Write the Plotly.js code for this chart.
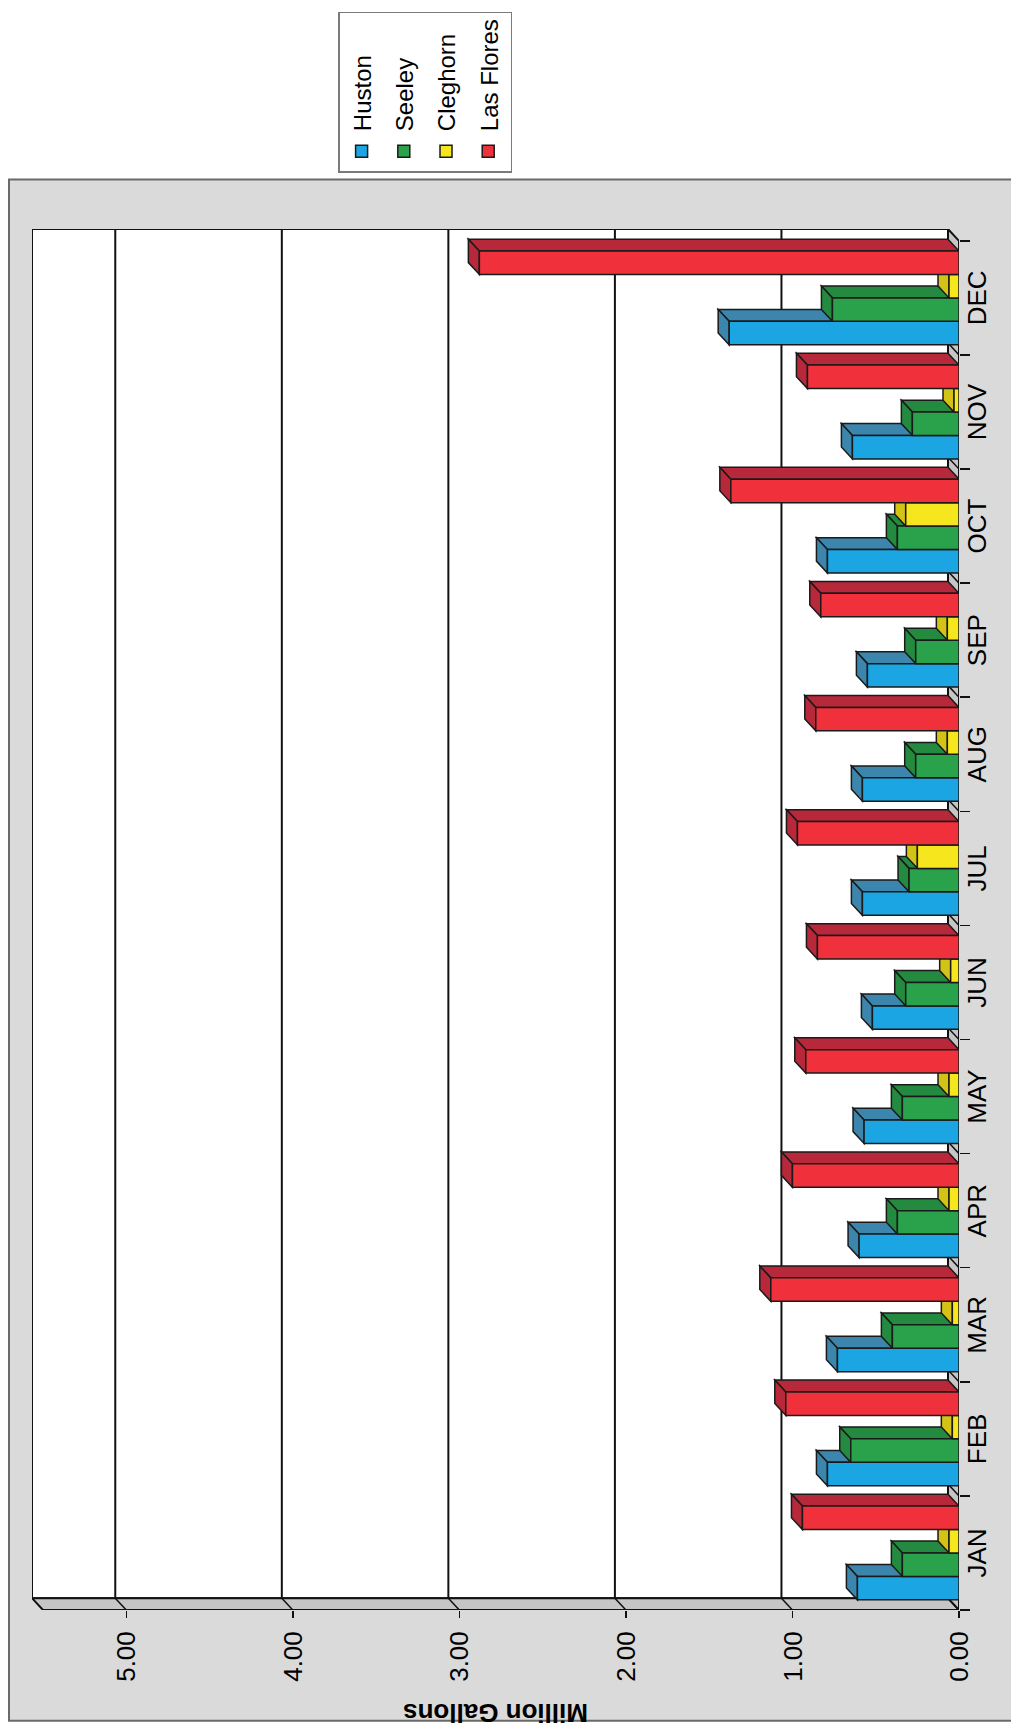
<!DOCTYPE html>
<html><head><meta charset="utf-8">
<script src="https://cdn.plot.ly/plotly-3.0.1.min.js"></script>
<style>
html,body{margin:0;padding:0;background:#fff;overflow:hidden;width:1011px;height:1731px;}
#chart{position:absolute;left:0;top:0;width:1731px;height:1011px;transform-origin:0 0;transform:translate(0px,1731px) rotate(-90deg);}
</style></head><body><div id="chart"></div>
<script>
// ---- data ----
const months = ['JAN','FEB','MAR','APR','MAY','JUN','JUL','AUG','SEP','OCT','NOV','DEC'];
const huston    = [0.61,0.79,0.73,0.60,0.57,0.52,0.58,0.58,0.55,0.79,0.64,1.38];
const seeley    = [0.34,0.65,0.40,0.37,0.34,0.32,0.30,0.26,0.26,0.37,0.28,0.76];
const cleghorn  = [0.06,0.04,0.04,0.06,0.06,0.05,0.25,0.07,0.07,0.32,0.03,0.06];
const lasFlores = [0.94,1.04,1.13,1.00,0.92,0.85,0.97,0.86,0.83,1.37,0.91,2.88];
const seriesNames = ['Huston','Seeley','Cleghorn','Las Flores'];
const valueTicks = [0,1,2,3,4,5];
const valueTickText = ['0.00','1.00','2.00','3.00','4.00','5.00'];
const axisTitle = 'Million Gallons';

// ---- style / geometry ----
const seriesValues = [huston, seeley, cleghorn, lasFlores];
const frontColors = ['#1ba5e3','#2aa14b','#f6e61d','#f0303b'];
const darkColors  = ['#3c86ad','#248a40','#d2c316','#b6283a'];
const W = 1731, H = 1011;
const M = {l:121, r:212, t:32, b:52};
const plotW = W - M.l - M.r, plotH = H - M.t - M.b;
const depthXpx = 12, depthYpx = 11;
const valueMax = 5.5;
const nCat = months.length;
const pxPerCat = (plotW - depthXpx) / nCat;
const dx = depthXpx / pxPerCat;
const pxPerVal = (plotH - depthYpx) / valueMax;
const dy = depthYpx / pxPerVal;
const gap = 0.178;
const bw = (1 - gap) / seriesValues.length;

const traces = seriesValues.map((vals, i) => ({
  type: 'bar', name: seriesNames[i], x: months, y: vals,
  width: bw, offset: -(1 - gap) / 2 + i * bw,
  legendgroup: 'g' + i,
  marker: {color: frontColors[i], line: {color: '#1a1a1a', width: 1.5}},
  hoverinfo: 'skip'
}));

const shapes = [];
const L = -0.5, R = nCat - 0.5;
const edge = {color: '#111', width: 2};
// back wall
shapes.push({type:'rect', xref:'x', yref:'y', layer:'below', x0:L+dx, x1:R+dx, y0:dy, y1:valueMax+dy,
  fillcolor:'#ffffff', line:edge});
// gridlines on back wall
valueTicks.slice(1).forEach(v => shapes.push({type:'line', xref:'x', yref:'y', layer:'below',
  x0:L+dx, x1:R+dx, y0:v+dy, y1:v+dy, line:{color:'#111', width:2}}));
// side wall
shapes.push({type:'path', xref:'x', yref:'y', layer:'below',
  path:`M${L},0 L${L},${valueMax} L${L+dx},${valueMax+dy} L${L+dx},${dy} Z`,
  fillcolor:'#c6c6c6', line:edge});
// floor
shapes.push({type:'path', xref:'x', yref:'y', layer:'below',
  path:`M${L},0 L${R},0 L${R+dx},${dy} L${L+dx},${dy} Z`,
  fillcolor:'#c6c6c6', line:edge});
valueTicks.slice(1).forEach(v => shapes.push({type:'line', xref:'x', yref:'y', layer:'below',
  x0:L, x1:L+dx, y0:v, y1:v+dy, line:{color:'#111', width:1.5}}));
for (let b = 0; b < nCat - 1; b++) shapes.push({type:'line', xref:'x', yref:'y', layer:'below',
  x0:b+0.5, x1:b+0.5+dx, y0:0, y1:dy, line:{color:'#111', width:1.5}});
// bar side faces, then top faces
const faceLine = {color:'#1a1a1a', width:1.5};
const sides = [], tops = [];
seriesValues.forEach((vals, i) => {
  vals.forEach((v, c) => {
    const x0 = c - (1 - gap) / 2 + i * bw, x1 = x0 + bw;
    sides.push({type:'path', xref:'x', yref:'y', layer:'below',
      path:`M${x1},0 L${x1},${v} L${x1+dx},${v+dy} L${x1+dx},${dy} Z`,
      fillcolor: darkColors[i], line: faceLine});
    tops.push({type:'path', xref:'x', yref:'y', layer:'below',
      path:`M${x0},${v} L${x1},${v} L${x1+dx},${v+dy} L${x0+dx},${v+dy} Z`,
      fillcolor: darkColors[i], line: faceLine});
  });
});
shapes.push(...sides, ...tops);
// chart area (grey frame)
const px2x = u => (u - M.l) / plotW, px2y = v => (H - M.b - v) / plotH;
shapes.unshift({type:'rect', xref:'paper', yref:'paper', layer:'below',
  x0:px2x(9), x1:px2x(1569), y0:px2y(1040), y1:px2y(9),
  fillcolor:'#dadada', line:{color:'#6a6a6a', width:2}});

const font = 'Liberation Sans, Arial, sans-serif';
const layout = {
  width: W, height: H, margin: M,
  paper_bgcolor: '#ffffff', plot_bgcolor: 'rgba(0,0,0,0)',
  barmode: 'overlay', showlegend: true,
  font: {family: font, color: '#000', size: 26},
  xaxis: {type:'category', categoryarray: months, range:[L, R+dx], showgrid:false, zeroline:false,
    showline:false, ticks:'outside', tickson:'boundaries', ticklen:10, tickwidth:1.5, tickcolor:'#111',
    tickfont:{size:26, family:font}, fixedrange:true},
  yaxis: {range:[0, valueMax+dy], tickvals: valueTicks, ticktext: valueTickText, showgrid:false,
    zeroline:false, showline:false, ticks:'outside', ticklen:7, tickwidth:1.5, tickcolor:'#111',
    ticklabelstandoff: 8, tickfont:{size:26, family:font},
    title:{text: axisTitle, font:{size:26, family:font, weight:'bold'}, standoff: 14}, fixedrange:true},
  legend: {x: px2x(1576), y: px2y(338), xanchor:'left', yanchor:'top', bgcolor:'#ffffff',
    bordercolor:'#7a7a7a', borderwidth:1.5, font:{size:24, family:font, color:'#000'},
    tracegroupgap: 8, itemwidth: 30},
  shapes: shapes
};
Plotly.newPlot('chart', traces, layout, {displayModeBar:false, staticPlot:true});
</script></body></html>
